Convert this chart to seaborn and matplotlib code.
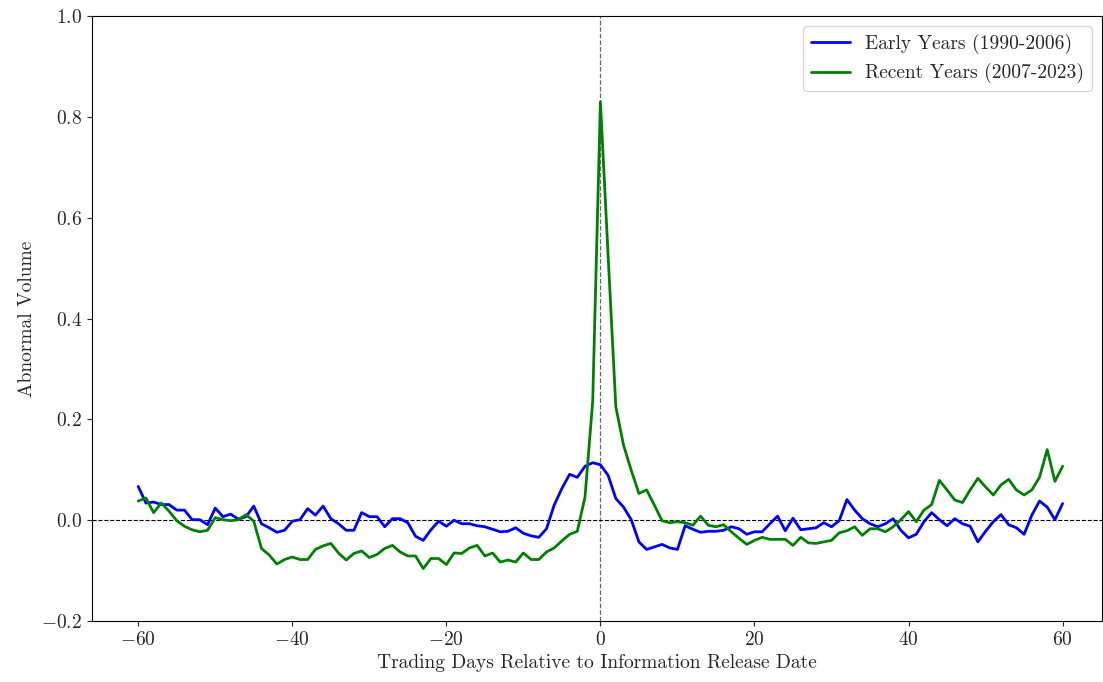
import numpy as np
import pandas as pd
import matplotlib
matplotlib.use("Agg")
import matplotlib.pyplot as plt
import seaborn as sns

days = list(range(-60, 61))

early_years = [
    0.067, 0.034, 0.036, 0.031, 0.031, 0.020, 0.020, 0.001, 0.001, -0.009, 0.024, 0.007, 0.012, 0.002, 0.007, 0.028, -0.007, -0.015, -0.024, -0.020, -0.002,
    0.001, 0.023, 0.010, 0.028, 0.003, -0.007, -0.020, -0.020, 0.015, 0.007, 0.007, -0.013, 0.003, 0.003, -0.005, -0.032, -0.040, -0.019, -0.002, -0.012,
    0.000, -0.007, -0.007, -0.011, -0.013, -0.018, -0.023, -0.022, -0.015, -0.026, -0.031, -0.034, -0.017, 0.030, 0.063, 0.091, 0.085, 0.107, 0.114, 0.110,
    0.089, 0.043, 0.026, 0.001, -0.043, -0.058, -0.053, -0.048, -0.055, -0.058, -0.011, -0.018, -0.024, -0.022, -0.022, -0.020, -0.013, -0.017, -0.028, -0.023,
    -0.023, -0.007, 0.008, -0.021, 0.004, -0.019, -0.017, -0.015, -0.005, -0.013, -0.001, 0.041, 0.020, 0.003, -0.007, -0.013, -0.007, 0.003, -0.020, -0.035,
    -0.028, -0.003, 0.015, 0.001, -0.011, 0.003, -0.007, -0.012, -0.043, -0.022, -0.003, 0.011, -0.009, -0.015, -0.028, 0.010, 0.038, 0.026, 0.001, 0.033,
]

recent_years = [
    0.038, 0.044, 0.015, 0.034, 0.018, -0.001, -0.012, -0.019, -0.023, -0.020, 0.005, 0.001, -0.001, 0.001, 0.011, -0.002, -0.056, -0.069, -0.087, -0.078, -0.073,
    -0.078, -0.078, -0.058, -0.051, -0.046, -0.065, -0.079, -0.066, -0.061, -0.074, -0.068, -0.056, -0.050, -0.063, -0.071, -0.071, -0.096, -0.076, -0.076, -0.088,
    -0.065, -0.066, -0.055, -0.050, -0.071, -0.065, -0.083, -0.079, -0.083, -0.065, -0.078, -0.078, -0.063, -0.055, -0.041, -0.028, -0.022, 0.046, 0.236, 0.830,
    0.525, 0.225, 0.149, 0.099, 0.053, 0.060, 0.030, -0.001, -0.005, -0.003, -0.005, -0.010, 0.008, -0.010, -0.013, -0.009, -0.023, -0.036, -0.048, -0.040,
    -0.034, -0.038, -0.038, -0.038, -0.050, -0.034, -0.045, -0.046, -0.043, -0.040, -0.025, -0.021, -0.013, -0.030, -0.017, -0.017, -0.023, -0.013, 0.001, 0.017,
    -0.003, 0.020, 0.031, 0.079, 0.060, 0.040, 0.035, 0.060, 0.083, 0.066, 0.050, 0.070, 0.081, 0.060, 0.050, 0.060, 0.085, 0.140, 0.077, 0.107,
]

series_names = ["Early Years (1990-2006)", "Recent Years (2007-2023)"]
series_colors = ["blue", "green"]

sns.set_style("ticks")
plt.rcParams["font.family"] = "serif"
plt.rcParams["font.serif"] = ["cmr10", "DejaVu Serif"]
plt.rcParams["mathtext.fontset"] = "cm"
plt.rcParams["axes.formatter.use_mathtext"] = True
plt.rcParams["axes.unicode_minus"] = True

df = pd.DataFrame({
    "day": days * 2,
    "value": early_years + recent_years,
    "series": [series_names[0]] * len(days) + [series_names[1]] * len(days),
})

fig = plt.figure(figsize=(11.03, 6.82), dpi=100)
ax = fig.add_axes([0.0834, 0.0894, 0.9156, 0.8871])

sns.lineplot(data=df, x="day", y="value", hue="series", palette=dict(zip(series_names, series_colors)),
             linewidth=2, ax=ax)

ax.axvline(0, color="dimgray", linestyle="--", linewidth=0.9, zorder=0.5)
ax.axhline(0, color="black", linestyle="--", linewidth=0.8, zorder=0.5)

ax.set_xlim(-66, 65.1)
ax.set_ylim(-0.2, 1.0)
ax.set_xticks([-60, -40, -20, 0, 20, 40, 60])
ax.set_yticks([-0.2, 0.0, 0.2, 0.4, 0.6, 0.8, 1.0])
ax.tick_params(labelsize=14)
ax.set_xlabel("Trading Days Relative to Information Release Date", fontsize=14)
ax.set_ylabel("Abnormal Volume", fontsize=14)

leg = ax.legend(loc="upper right", fontsize=14, frameon=True)
leg.set_title(None)

for s in ax.spines.values():
    s.set_color("black")

fig.savefig("out.png", dpi=100)
